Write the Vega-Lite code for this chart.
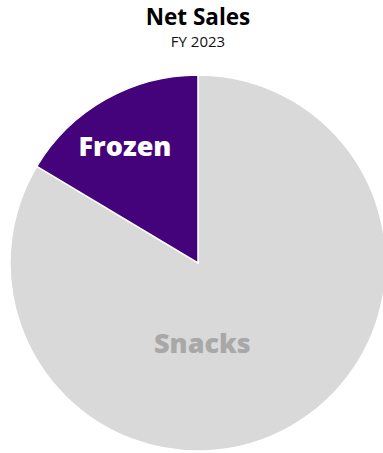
{
  "$schema": "https://vega.github.io/schema/vega-lite/v6.json",
  "width": 396,
  "height": 376,
  "autosize": "none",
  "padding": {"left": 0, "top": 75, "right": 0, "bottom": 0},
  "background": "white",
  "title": {
    "text": "Net Sales",
    "subtitle": "FY 2023",
    "anchor": "middle",
    "font": "Open Sans",
    "fontSize": 22.5,
    "fontWeight": 700,
    "color": "#000000",
    "subtitleFont": "Open Sans",
    "subtitleFontSize": 15,
    "subtitleColor": "#111111",
    "subtitlePadding": 6,
    "offset": 22,
    "dx": 0
  },
  "data": {
    "values": [
      {"category": "Snacks", "share": 83.6},
      {"category": "Frozen", "share": 16.4}
    ]
  },
  "view": {"stroke": null},
  "layer": [
    {
      "mark": {"type": "arc", "outerRadius": 188, "stroke": "white", "strokeWidth": 1.5},
      "encoding": {
        "theta": {"field": "share", "type": "quantitative", "stack": true},
        "order": {"field": "category", "sort": "descending"},
        "color": {
          "field": "category",
          "type": "nominal",
          "scale": {"domain": ["Snacks", "Frozen"], "range": ["#d9d9d9", "#44037a"]},
          "legend": null
        }
      }
    },
    {
      "mark": {"type": "text", "radius": 138, "dx": -5, "dy": 5, "font": "Open Sans", "fontSize": 27, "fontWeight": 800, "color": "white"},
      "encoding": {
        "theta": {"field": "share", "type": "quantitative", "stack": true},
        "order": {"field": "category", "sort": "descending"},
        "text": {"condition": {"test": "datum.category === 'Frozen'", "field": "category"}, "value": ""}
      }
    },
    {
      "transform": [{"filter": "datum.category === 'Snacks'"}],
      "mark": {"type": "text", "radius": 80, "dx": -35, "dy": 12, "font": "Open Sans", "fontSize": 27, "fontWeight": 800, "color": "#a8a8a8"},
      "encoding": {
        "theta": {"field": "share", "type": "quantitative", "stack": true},
        "text": {"field": "category"}
      }
    }
  ]
}
